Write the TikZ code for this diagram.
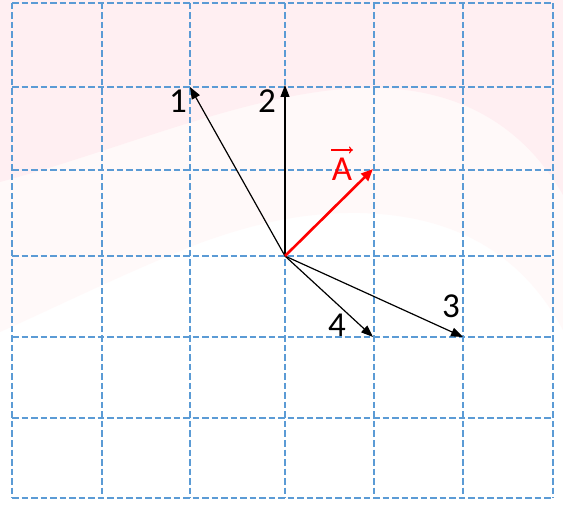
\documentclass[tikz,border=0pt]{standalone}
\usepackage{fontspec}
\setmainfont{Carlito}
\usetikzlibrary{arrows.meta}
\definecolor{gridblue}{HTML}{5B9BD5}
\definecolor{pinkA}{HTML}{FFEFF2}
\definecolor{pinkB}{HTML}{FFF9F9}
\begin{document}
\begin{tikzpicture}[x=1pt,y=-1pt,
  gridline/.style={draw=gridblue,line width=1.1pt,dash pattern=on 6.5pt off 3pt},
  vec/.style={draw=black,line width=1.2pt,-{Triangle[length=12pt,width=9pt]}},
  redvec/.style={draw=red,line width=2.6pt,-{Triangle[length=12pt,width=10pt]}},
  lbl/.style={font=\fontsize{35}{38}\selectfont,inner sep=0pt}]
\useasboundingbox (0,0) rectangle (563,505);
\fill[white] (0,0) rectangle (563,505);
% background blobs
\fill[pinkB] (0,0) -- (563,0) -- (563,330) .. controls (520,250) and (450,215) .. (360,213)
  .. controls (300,212) and (250,225) .. (200,243) .. controls (120,275) and (50,310) .. (0,332) -- cycle;
\fill[pinkA] (0,0) -- (563,0) -- (563,195) .. controls (520,120) and (450,85) .. (360,88)
  .. controls (250,92) and (120,150) .. (0,182) -- cycle;
% grid
\foreach \x/\n in {12/a,102/b,190/c,285/d,374/e,463/f,553/g}{
  \coordinate (vt\n) at (\x,3); \coordinate (vb\n) at (\x,498);
  \draw[gridline] (vt\n) -- (vb\n);}
\foreach \y/\n in {3/a,87/b,170/c,256/d,337/e,418/f,498/g}{
  \coordinate (hl\n) at (12,\y); \coordinate (hr\n) at (553,\y);
  \draw[gridline] (hl\n) -- (hr\n);}
% vectors
\coordinate (O) at (285,256);
\coordinate (t1) at (190,87);
\coordinate (t2) at (285,85);
\coordinate (tA) at (373,169);
\coordinate (t3) at (463,337);
\coordinate (t4) at (373,337);
\draw[vec] (O) -- (t1);
\draw[vec] (O) -- (t2);
\draw[vec] (O) -- (t3);
\draw[vec] (O) -- (t4);
\draw[redvec] (O) -- (tA);
% labels
\node[lbl] (l1) at (178,101) {1};
\node[lbl] (l2) at (267,101) {2};
\node[lbl] (l3) at (451,306) {3};
\node[lbl] (l4) at (337,325) {4};
\node[lbl,text=red] (lA) at (342,169) {A};
\coordinate (aL) at (331,150);
\coordinate (aR) at (353,150);
\draw[red,line width=1.1pt,-{To[length=4pt,width=7pt]}] (aL) -- (aR);
\end{tikzpicture}
\end{document}
